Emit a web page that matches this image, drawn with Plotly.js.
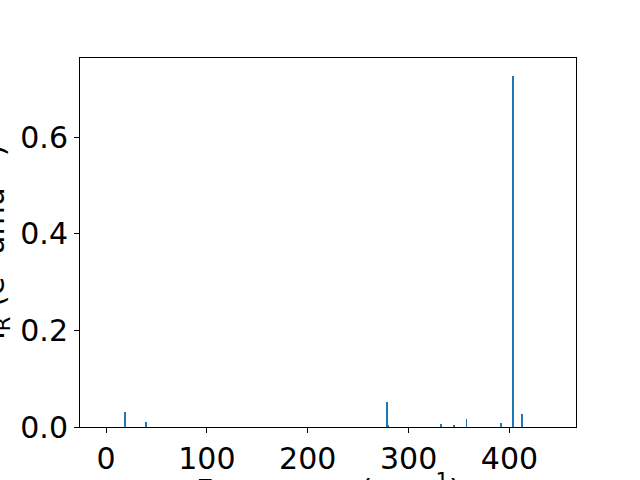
<!DOCTYPE html>
<html>
<head>
<meta charset="utf-8">
<script src="https://cdn.plot.ly/plotly-3.0.1.min.js"></script>
<style>html,body{margin:0;padding:0;background:#fff;}#chart{width:640px;height:480px;}</style>
</head>
<body>
<div id="chart"></div>
<script>
const frequencies = [18.7, 39.3, 278.4, 279.8, 332.2, 344.8, 357.5, 391.7, 403.6, 412.5];
const intensities = [0.0317, 0.011, 0.051, 0.004, 0.0055, 0.0033, 0.017, 0.0075, 0.728, 0.0275];
const xTickVals = [0, 100, 200, 300, 400];
const yTickVals = [0.0, 0.2, 0.4, 0.6];
const xTitle = 'Frequency (cm<sup>−1</sup>)';
const yTitle = 'I<sub>R</sub> (e<sup>2</sup> amu<sup>−1</sup>)';

const font = {family: 'DejaVu Sans', size: 30, color: '#000'};

Plotly.newPlot('chart', [{
  type: 'bar',
  x: frequencies,
  y: intensities,
  width: 1.8,
  marker: {color: '#1f77b4', line: {width: 0}}
}], {
  width: 640, height: 480,
  margin: {l: 80, r: 64, t: 58, b: 53},
  paper_bgcolor: '#fff', plot_bgcolor: '#fff',
  font: font,
  showlegend: false,
  bargap: 0,
  xaxis: {
    range: [-25.8, 466],
    tickvals: xTickVals,
    ticktext: xTickVals.map(String),
    ticks: 'outside', ticklen: 5, tickwidth: 1, tickcolor: '#000',
    showline: true, linecolor: '#000', linewidth: 1, mirror: true,
    showgrid: false, zeroline: false,
    tickfont: font
  },
  yaxis: {
    range: [0, 0.7645],
    tickvals: yTickVals,
    ticktext: yTickVals.map(v => v.toFixed(1)),
    ticks: 'outside', ticklen: 5, tickwidth: 1, tickcolor: '#000',
    showline: true, linecolor: '#000', linewidth: 1, mirror: true,
    showgrid: false, zeroline: false,
    tickfont: font
  },
  annotations: [
    {text: xTitle, xref: 'paper', yref: 'paper', x: 0.5, y: 0,
     xanchor: 'center', yanchor: 'top', yshift: -40, showarrow: false, font: font},
    {text: yTitle, xref: 'paper', yref: 'paper', x: 0, y: 0.5, textangle: -90,
     xanchor: 'right', yanchor: 'middle', xshift: -63, showarrow: false, font: font}
  ]
}, {displayModeBar: false, staticPlot: true});
</script>
</body>
</html>
